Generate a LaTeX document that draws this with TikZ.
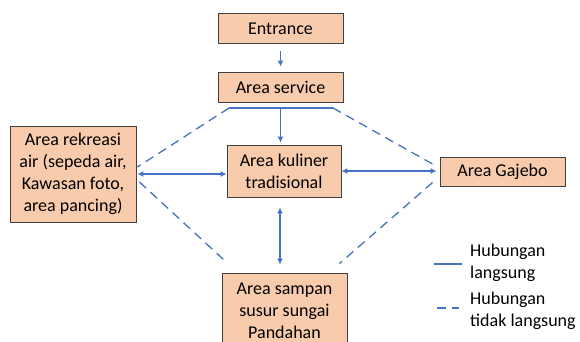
\documentclass[tikz,border=0pt]{standalone}
\usepackage{fontspec}
\setmainfont{Carlito}
\usetikzlibrary{arrows.meta}
\definecolor{boxfill}{HTML}{F8CBAD}
\definecolor{linkblue}{HTML}{4472C4}

\begin{document}
\begin{tikzpicture}[x=1pt,y=-1pt,
    area/.style={draw=black!75,fill=boxfill,line width=0.9pt,inner sep=0pt,align=center,font=\fontsize{18}{22}\selectfont},
    legend/.style={inner sep=0pt,align=left,font=\fontsize{18}{22}\selectfont},
    direct/.style={linkblue,line width=1.2pt},
    indirect/.style={linkblue,line width=1.3pt,dash pattern=on 9pt off 6pt},
    tip/.style={-{Latex[length=6pt,width=6pt]}},
    bitip/.style={{Latex[length=6pt,width=6pt]}-{Latex[length=6pt,width=6pt]}}]
    \useasboundingbox (0,0) rectangle (580,342);
    % boxes
    \node[area,minimum width=125pt,minimum height=30pt] (entrance) at (280.5,28.5) {Entrance};
    \node[area,minimum width=125pt,minimum height=30pt] (service) at (280.5,87) {Area service};
    \node[area,minimum width=114pt,minimum height=52pt] (kuliner) at (284,171) {Area kuliner\\tradisional};
    \node[area,minimum width=126pt,minimum height=96pt] (rekreasi) at (73,174) {Area rekreasi\\air (sepeda air,\\Kawasan foto,\\area pancing)};
    \node[area,minimum width=125pt,minimum height=29pt] (gajebo) at (502.5,171.5) {Area Gajebo};
    \node[area,minimum width=125pt,minimum height=76pt] (sampan) at (284.5,311) {Area sampan\\susur sungai\\Pandahan};
    \coordinate (barL) at (229,108);
    \coordinate (barR) at (333,108);
    % direct links
    \draw[direct,tip,shorten <=7pt,shorten >=5pt] (entrance) -- (service);
    \draw[direct] (barL) -- (barR);
    \draw[direct,tip,shorten >=2pt] (barL -| service) -- (service |- kuliner.north);
    \draw[direct,bitip,shorten <=1pt] (rekreasi.east) -- (rekreasi.east -| kuliner.west);
    \draw[direct,bitip,shorten >=3pt] (kuliner.east) -- (kuliner.east -| gajebo.west);
    \draw[direct,bitip,shorten <=10pt,shorten >=8pt] ([xshift=-4pt]kuliner.south) -- ([xshift=-4pt]kuliner.south |- sampan.north);
    % indirect links
    \draw[indirect] (barL) -- ([xshift=1pt,yshift=7pt]rekreasi.east);
    \draw[indirect] (barR) -- ([xshift=-7pt,yshift=7.5pt]gajebo.west);
    \draw[indirect] ([xshift=3pt,yshift=-8pt]rekreasi.east) -- ([xshift=2pt,yshift=13pt]sampan.north west);
    \draw[indirect] ([xshift=-7pt,yshift=-11pt]gajebo.west) -- ([xshift=-8pt,yshift=9pt]sampan.north east);
    % legend
    \coordinate (solidA) at (434,264);
    \coordinate (solidB) at (462,264);
    \coordinate (dashA) at (437,308);
    \coordinate (dashB) at (459,308);
    \draw[direct] (solidA) -- (solidB);
    \draw[indirect] (dashA) -- (dashB);
    \node[legend,anchor=west] (directtxt) at (470,263) {Hubungan\\langsung};
    \node[legend,anchor=west] (indirecttxt) at (470,311) {Hubungan\\tidak langsung};
\end{tikzpicture}
\end{document}
